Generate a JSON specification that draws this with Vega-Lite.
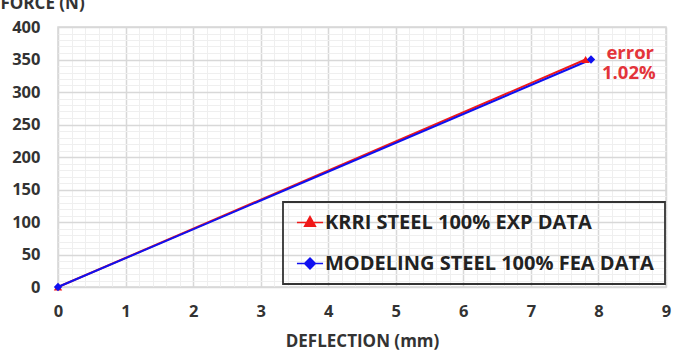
{
  "$schema": "https://vega.github.io/schema/vega-lite/v6.json",
  "width": 608,
  "height": 260,
  "autosize": {"type": "none"},
  "padding": {"left": 58, "top": 27, "right": 11, "bottom": 76},
  "config": {
    "font": "Open Sans",
    "view": {"stroke": "#d6d6d6", "strokeWidth": 1.5}
  },
  "datasets": {
    "curves": [
      {"series": "KRRI STEEL 100% EXP DATA", "deflection": 0, "force": 0},
      {"series": "KRRI STEEL 100% EXP DATA", "deflection": 7.81, "force": 350},
      {"series": "MODELING STEEL 100% FEA DATA", "deflection": 0, "force": 0},
      {"series": "MODELING STEEL 100% FEA DATA", "deflection": 7.89, "force": 350}
    ],
    "notes": [
      {"deflection": 8.47, "force": 351, "note": "error"},
      {"deflection": 8.45, "force": 320, "note": "1.02%"}
    ]
  },
  "encoding": {
    "x": {
      "field": "deflection",
      "type": "quantitative",
      "scale": {"domain": [0, 9], "nice": false, "zero": false},
      "axis": {
        "title": "DEFLECTION (mm)",
        "titleFontSize": 17,
        "titleFontWeight": "bold",
        "titleColor": "#333",
        "titlePadding": 14,
        "values": [0, 0.2, 0.4, 0.6, 0.8, 1, 1.2, 1.4, 1.6, 1.8, 2, 2.2, 2.4, 2.6, 2.8, 3, 3.2, 3.4, 3.6, 3.8, 4, 4.2, 4.4, 4.6, 4.8, 5, 5.2, 5.4, 5.6, 5.8, 6, 6.2, 6.4, 6.6, 6.8, 7, 7.2, 7.4, 7.6, 7.8, 8, 8.2, 8.4, 8.6, 8.8, 9],
        "labelExpr": "datum.value % 1 === 0 ? format(datum.value, 'd') : ''",
        "labelOverlap": false,
        "labelFlush": false,
        "labelFontSize": 16.5,
        "labelFontWeight": "bold",
        "labelColor": "#333",
        "labelPadding": 16,
        "ticks": false,
        "domain": false,
        "gridColor": {"condition": {"test": "datum.value % 1 === 0", "value": "#d8d8d8"}, "value": "#efefef"},
        "gridWidth": {"condition": {"test": "datum.value % 1 === 0", "value": 1.5}, "value": 1}
      }
    },
    "y": {
      "field": "force",
      "type": "quantitative",
      "scale": {"domain": [0, 400], "nice": false},
      "axis": {
        "title": "FORCE (N)",
        "titleAngle": 0,
        "titleAlign": "left",
        "titleBaseline": "alphabetic",
        "titleX": -58,
        "titleY": -19,
        "titleFontSize": 17,
        "titleFontWeight": "bold",
        "titleColor": "#333",
        "values": [0, 10, 20, 30, 40, 50, 60, 70, 80, 90, 100, 110, 120, 130, 140, 150, 160, 170, 180, 190, 200, 210, 220, 230, 240, 250, 260, 270, 280, 290, 300, 310, 320, 330, 340, 350, 360, 370, 380, 390, 400],
        "labelExpr": "datum.value % 50 === 0 ? format(datum.value, 'd') : ''",
        "labelOverlap": false,
        "labelFlush": false,
        "labelFontSize": 16.5,
        "labelFontWeight": "bold",
        "labelColor": "#333",
        "labelPadding": 18,
        "ticks": false,
        "domain": false,
        "gridColor": {"condition": {"test": "datum.value % 50 === 0", "value": "#d8d8d8"}, "value": "#efefef"},
        "gridWidth": {"condition": {"test": "datum.value % 50 === 0", "value": 1.5}, "value": 1}
      }
    }
  },
  "layer": [
    {
      "data": {"name": "curves"},
      "mark": {"type": "line", "strokeWidth": 2},
      "encoding": {
        "color": {
          "field": "series",
          "type": "nominal",
          "scale": {"domain": ["KRRI STEEL 100% EXP DATA", "MODELING STEEL 100% FEA DATA"], "range": ["#f01818", "#1010f0"]},
          "legend": {
            "orient": "none",
            "legendX": 225,
            "legendY": 175,
            "title": null,
            "direction": "vertical",
            "padding": 10.5,
            "rowPadding": 21,
            "strokeColor": "#333",
            "symbolSize": 324,
            "symbolOffset": 6.5,
            "symbolStrokeWidth": 1.5,
            "labelOffset": 5,
            "labelFont": "Open Sans",
            "labelFontSize": 20,
            "labelFontWeight": "bold",
            "labelColor": "#222",
            "labelLimit": 500,
            "encode": {
              "legend": {
                "update": {
                  "strokeWidth": {"value": 1.8}
                }
              },
              "symbols": {
                "update": {
                  "shape": {"signal": "datum.value === 'KRRI STEEL 100% EXP DATA' ? 'M-1.45,0H1.45M0,-0.65L0.6,0.42L-0.6,0.42Z' : 'M-1.45,0H1.45M0,-0.6L0.6,0L0,0.6L-0.6,0Z'"},
                  "fill": {"scale": "color", "field": "value"},
                  "stroke": {"scale": "color", "field": "value"},
                  "strokeWidth": {"value": 1.5},
                  "opacity": {"value": 1}
                }
              }
            }
          }
        }
      }
    },
    {
      "data": {"name": "curves"},
      "transform": [{"filter": "datum.series === 'KRRI STEEL 100% EXP DATA'"}],
      "mark": {"type": "point", "shape": "triangle-up", "filled": true, "size": 70, "opacity": 1, "color": "#f01818"}
    },
    {
      "data": {"name": "curves"},
      "transform": [{"filter": "datum.series === 'MODELING STEEL 100% FEA DATA'"}],
      "mark": {"type": "point", "shape": "diamond", "filled": true, "size": 70, "opacity": 1, "color": "#1010f0"}
    },
    {
      "data": {"name": "notes"},
      "mark": {"type": "text", "align": "center", "baseline": "alphabetic", "fontSize": 18.5, "fontWeight": "bold", "color": "#e3343a", "font": "Open Sans"},
      "encoding": {
        "text": {"field": "note", "type": "nominal"}
      }
    }
  ]
}
